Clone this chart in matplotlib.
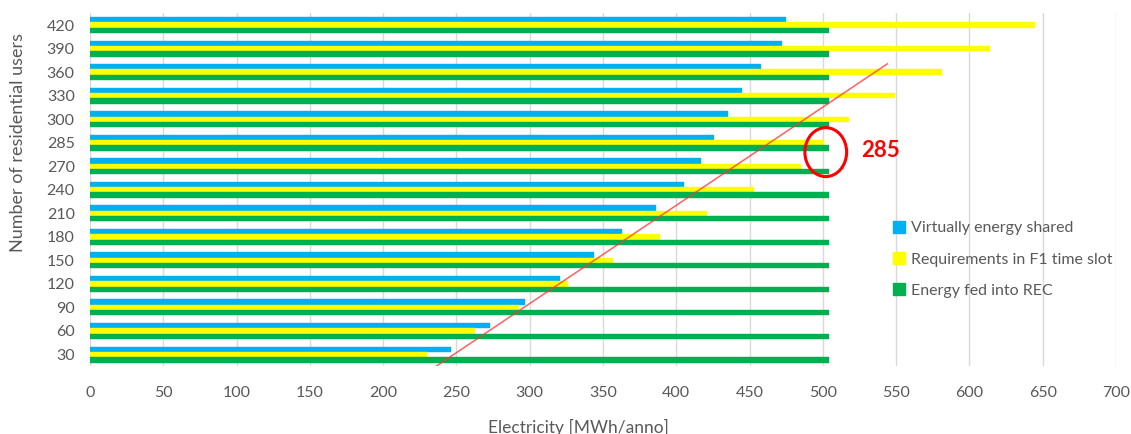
import matplotlib
matplotlib.use("Agg")
import matplotlib.pyplot as plt
from matplotlib.patches import Ellipse, Patch
import numpy as np

plt.rcParams['font.family'] = ['Lato', 'DejaVu Sans']

# number of residential users in the REC and the yearly energy figures (MWh)
users = [30, 60, 90, 120, 150, 180, 210, 240, 270, 285, 300, 330, 360, 390, 420]
shared = [246, 273, 297, 321, 344, 363, 386, 405, 417, 426, 435, 445, 458, 472, 475]
f1_req = [230, 263, 293, 326, 357, 389, 421, 453, 485, 501, 518, 549, 581, 614, 645]
fed_in = [504] * 15

series_labels = ["Virtually energy shared", "Requirements in F1 time slot", "Energy fed into REC"]
series_colors = ["#00B0F0", "#FFFF00", "#00B050"]

# trend line through the F1 requirements, and the break-even marker
trend_x = [234, 544]
trend_y = [-0.59, 12.35]
mark_x, mark_y = 502, 8.6
mark_text = "285"

grey = "#595959"

fig = plt.figure(figsize=(11.31, 4.34), dpi=100)
ax = fig.add_axes([0.0796, 0.156, 0.9071, 0.8134])

y = np.arange(len(users))
h = 0.227
for vals, off, col, lab in zip([shared, f1_req, fed_in], [h, 0, -h],
                               series_colors, series_labels):
    ax.barh(y + off, vals, height=h, color=col, label=lab, zorder=2,
            edgecolor=col, linewidth=0.3)

ax.set_xlim(0, 700)
ax.set_ylim(-0.5, len(users) - 0.5)
ax.set_xticks(range(0, 701, 50))
ax.set_yticks(y)
ax.set_yticklabels([str(u) for u in users])
ax.tick_params(axis='both', length=0, labelsize=11.5, colors=grey)
ax.tick_params(axis='y', pad=11)
ax.tick_params(axis='x', pad=14)
ax.grid(axis='x', color="#D9D9D9", linewidth=1, zorder=0)
ax.set_axisbelow(True)
for s in ax.spines.values():
    s.set_visible(False)

ax.plot(trend_x, trend_y, color="#FF3838", linewidth=1.1, alpha=0.8, zorder=3)
ax.add_patch(Ellipse((mark_x, mark_y), 28.5, 2.08, fill=False,
                     edgecolor="#FF0000", linewidth=2.2, zorder=4))
ax.text(mark_x + 24, mark_y + 0.05, mark_text, color="#FF0000", fontsize=16,
        fontweight='bold', va='center', ha='left', zorder=4)

handles = [Patch(facecolor=c, edgecolor=c) for c in series_colors]
fig.legend(handles, series_labels, loc='upper left',
           bbox_to_anchor=(893 / 1131, 1 - 221 / 434), frameon=False,
           handlelength=0.75, handleheight=0.75, handletextpad=0.35,
           labelspacing=1.05, borderpad=0, borderaxespad=0,
           prop={'size': 11.5}, labelcolor=grey)

fig.text(18 / 1131, 1 - 143 / 434, "Number of residential users", rotation=90,
         ha='center', va='center', fontsize=13, color=grey)
fig.text(578 / 1131, 1 - 427 / 434, "Electricity [MWh/anno]",
         ha='center', va='center', fontsize=12.5, color=grey)

fig.savefig("out.png", dpi=100)
